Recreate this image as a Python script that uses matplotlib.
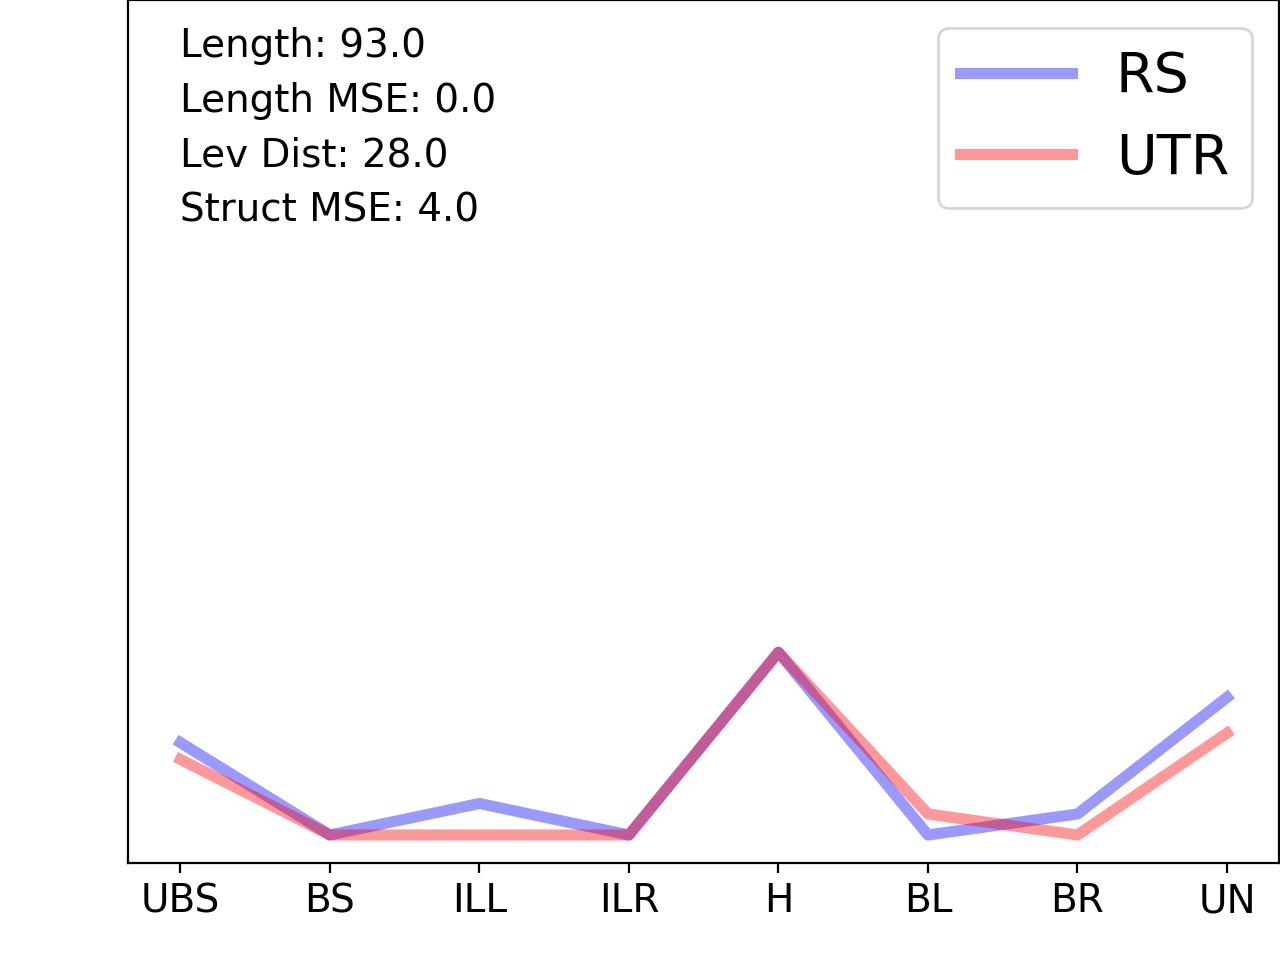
import matplotlib
matplotlib.use("Agg")
import matplotlib.pyplot as plt

regions = ["UBS", "BS", "ILL", "ILR", "H", "BL", "BR", "UN"]
rs_values = [8.8, 0.0, 3.0, 0.0, 17.4, 0.0, 2.0, 13.1]
utr_values = [7.2, 0.0, 0.0, 0.0, 17.4, 2.0, 0.0, 9.7]

stats_text = "Length: 93.0\nLength MSE: 0.0\nLev Dist: 28.0\nStruct MSE: 4.0"

fig = plt.figure(figsize=(6.4, 4.8), dpi=200)
ax = fig.add_axes([0.1, 0.101, 0.8995, 0.899])

x = range(len(regions))
ax.plot(x, rs_values, color="blue", alpha=0.4, lw=4, label="RS")
ax.plot(x, utr_values, color="red", alpha=0.4, lw=4, label="UTR")

ax.set_ylim(-2.67, 79.5)
ax.set_yticks([])
ax.set_xticks(list(x))
ax.set_xticklabels(regions, fontsize=14)

ax.text(0, 76.9, stats_text, fontsize=14, va="top", ha="left", linespacing=1.555)
ax.legend(loc="upper right", fontsize=20)

fig.savefig("out.png", dpi=200)
